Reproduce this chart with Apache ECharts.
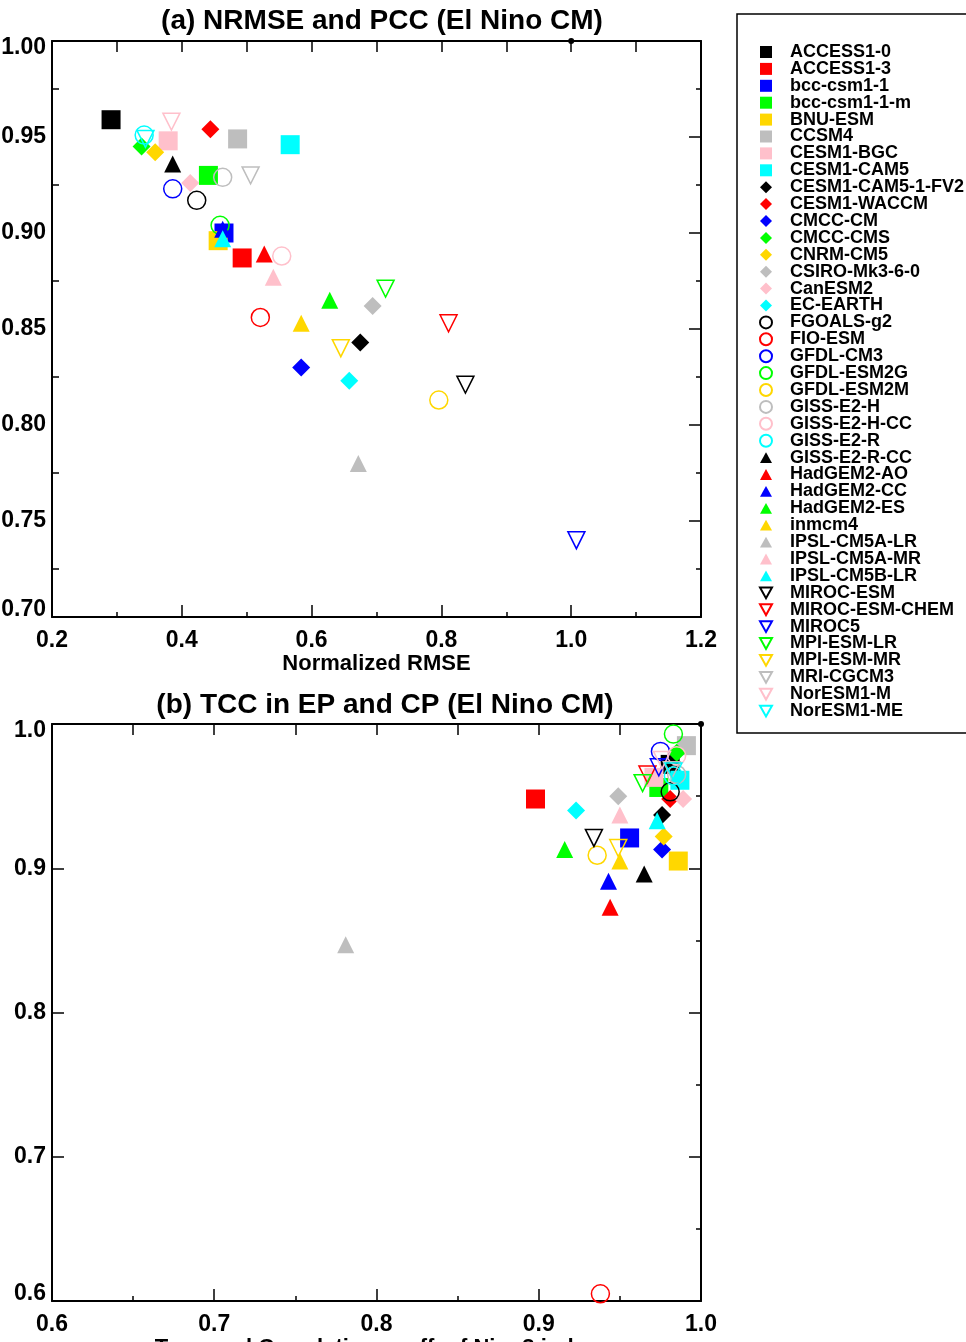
<!DOCTYPE html>
<html>
<head>
<meta charset="utf-8">
<script src="https://cdn.jsdelivr.net/npm/echarts@6/dist/echarts.min.js"></script>
<style>
  html, body { margin: 0; padding: 0; background: #fff; }
  #main { width: 966px; height: 1342px; }
</style>
</head>
<body>
<div id="main"></div>
<script>
var models = [
    'ACCESS1-0', 'ACCESS1-3', 'bcc-csm1-1', 'bcc-csm1-1-m', 'BNU-ESM', 'CCSM4', 'CESM1-BGC', 'CESM1-CAM5',
    'CESM1-CAM5-1-FV2', 'CESM1-WACCM', 'CMCC-CM', 'CMCC-CMS', 'CNRM-CM5', 'CSIRO-Mk3-6-0', 'CanESM2', 'EC-EARTH',
    'FGOALS-g2', 'FIO-ESM', 'GFDL-CM3', 'GFDL-ESM2G', 'GFDL-ESM2M', 'GISS-E2-H', 'GISS-E2-H-CC', 'GISS-E2-R',
    'GISS-E2-R-CC', 'HadGEM2-AO', 'HadGEM2-CC', 'HadGEM2-ES', 'inmcm4', 'IPSL-CM5A-LR', 'IPSL-CM5A-MR', 'IPSL-CM5B-LR',
    'MIROC-ESM', 'MIROC-ESM-CHEM', 'MIROC5', 'MPI-ESM-LR', 'MPI-ESM-MR', 'MRI-CGCM3', 'NorESM1-M', 'NorESM1-ME'
];

// (a) normalized RMSE (x) and pattern correlation (y)
var nrmse = [
    0.291, 0.493, 0.465, 0.441, 0.456, 0.486, 0.379, 0.567,
    0.675, 0.444, 0.584, 0.338, 0.359, 0.694, 0.413, 0.658,
    0.423, 0.521, 0.386, 0.459, 0.796, 0.463, 0.554, 0.342,
    0.386, 0.527, 0.463, 0.628, 0.584, 0.672, 0.541, 0.463,
    0.837, 0.811, 1.008, 0.714, 0.645, 0.506, 0.384, 0.344
];
var pcc = [
    0.959, 0.887, 0.900, 0.930, 0.896, 0.949, 0.948, 0.946,
    0.843, 0.954, 0.830, 0.945, 0.942, 0.862, 0.926, 0.823,
    0.917, 0.856, 0.923, 0.904, 0.813, 0.929, 0.888, 0.951,
    0.936, 0.889, 0.902, 0.865, 0.853, 0.780, 0.877, 0.897,
    0.821, 0.853, 0.740, 0.871, 0.840, 0.930, 0.958, 0.949
];

// (b) temporal correlation of Nino3 (x) and Nino4 (y) index
var tccNino3 = [
    0.981, 0.898, 0.956, 0.974, 0.986, 0.991, 0.971, 0.987,
    0.976, 0.981, 0.976, 0.985, 0.977, 0.949, 0.989, 0.923,
    0.981, 0.938, 0.975, 0.983, 0.936, 0.985, 0.985, 0.983,
    0.965, 0.944, 0.943, 0.916, 0.950, 0.781, 0.950, 0.973,
    0.934, 0.967, 0.974, 0.964, 0.949, 0.982, 0.976, 0.983
];
var tccNino4 = [
    0.972, 0.948, 0.921, 0.956, 0.905, 0.985, 0.963, 0.961,
    0.937, 0.948, 0.913, 0.980, 0.922, 0.950, 0.948, 0.940,
    0.953, 0.605, 0.981, 0.993, 0.909, 0.965, 0.978, 0.964,
    0.896, 0.873, 0.891, 0.913, 0.905, 0.847, 0.937, 0.933,
    0.921, 0.965, 0.970, 0.959, 0.914, 0.968, 0.975, 0.967
];

// reference point drawn on both panels
var obsA = [1.0, 1.0];
var obsB = [1.0, 1.0];

var palette = ['#000000', '#ff0000', '#0000ff', '#00ff00', '#ffd700', '#bebebe', '#ffc0cb', '#00ffff'];
var shapes = [
    { path: 'path://M0,0L10,0L10,10L0,10Z', size: 19, hollow: false },                       // square
    { path: 'path://M5,0L10,5L5,10L0,5Z', size: 18, hollow: false },                         // diamond
    { path: 'path://M0,5A5,5,0,1,1,10,5A5,5,0,1,1,0,5Z', size: 18, hollow: true },           // circle
    { path: 'path://M5,0L10,9L0,9Z', size: 17, hollow: false },                              // triangle
    { path: 'path://M0,0L10,0L5,9Z', size: 17, hollow: true }                                // down triangle
];

var font = 'Liberation Sans, Arial, Helvetica, sans-serif';
var myChart = echarts.init(document.getElementById('main'));

function bottomAxis(grid, min, max, interval, name) {
    return {
        type: 'value', gridIndex: grid, position: 'bottom', min: min, max: max, interval: interval,
        name: name, nameLocation: 'middle', nameGap: 34,
        nameTextStyle: { fontFamily: font, fontWeight: 'bold', fontSize: 22, color: '#000' },
        axisLine: { lineStyle: { color: '#000', width: 2 } },
        axisTick: { inside: true, length: 12, lineStyle: { color: '#000', width: 1.5 } },
        minorTick: { show: true, splitNumber: 2, length: 5, lineStyle: { color: '#000', width: 1.5 } },
        axisLabel: {
            margin: 12, fontFamily: font, fontWeight: 'bold', fontSize: 23, color: '#000',
            formatter: function (v) { return v.toFixed(1); }
        },
        splitLine: { show: false }
    };
}

function topAxis(grid, min, max, interval) {
    return {
        type: 'value', gridIndex: grid, position: 'top', min: min, max: max, interval: interval,
        axisLine: { lineStyle: { color: '#000', width: 2 } },
        axisTick: { inside: true, length: 11, lineStyle: { color: '#000', width: 1.5 } },
        axisLabel: { show: false },
        splitLine: { show: false }
    };
}

function leftAxis(grid, min, max, interval, digits, major, minor) {
    var lab = { fontFamily: font, fontWeight: 'bold', fontSize: 23, color: '#000' };
    return {
        type: 'value', gridIndex: grid, position: 'left', min: min, max: max, interval: interval,
        axisLine: { lineStyle: { color: '#000', width: 2 } },
        axisTick: { inside: true, length: major, lineStyle: { color: '#000', width: 1.5 } },
        minorTick: { show: minor > 0, splitNumber: 2, length: minor, lineStyle: { color: '#000', width: 1.5 } },
        axisLabel: {
            margin: 6, fontFamily: font, fontWeight: 'bold', fontSize: 23, color: '#000',
            // end labels sit inside the frame, as in the original
            formatter: function (v) {
                var t = v.toFixed(digits);
                if (Math.abs(v - max) < 1e-9) return '{hi|' + t + '}';
                if (Math.abs(v - min) < 1e-9) return '{lo|' + t + '}';
                return t;
            },
            rich: {
                hi: Object.assign({ padding: [14, 0, 0, 0] }, lab),
                lo: Object.assign({ padding: [0, 0, 14, 0] }, lab)
            }
        },
        splitLine: { show: false }
    };
}

function rightAxis(grid, min, max, interval) {
    return {
        type: 'value', gridIndex: grid, position: 'right', min: min, max: max, interval: interval,
        axisLine: { lineStyle: { color: '#000', width: 2 } },
        axisTick: { inside: true, length: 12, lineStyle: { color: '#000', width: 1.5 } },
        minorTick: { show: true, splitNumber: 2, length: 5, lineStyle: { color: '#000', width: 1.5 } },
        axisLabel: { show: false },
        splitLine: { show: false }
    };
}

var series = [];
models.forEach(function (m, i) {
    var c = palette[i % 8];
    var s = shapes[Math.floor(i / 8)];
    var base = {
        type: 'scatter', name: m, symbol: s.path, symbolSize: s.size, clip: false, silent: true,
        itemStyle: s.hollow
            ? { color: 'rgba(0,0,0,0)', borderColor: c, borderWidth: 1.5, opacity: 1 }
            : { color: c, borderWidth: 0, opacity: 1 }
    };
    series.push(Object.assign({}, base, { xAxisIndex: 0, yAxisIndex: 0, data: [[nrmse[i], pcc[i]]] }));
    series.push(Object.assign({}, base, { xAxisIndex: 2, yAxisIndex: 2, data: [[tccNino3[i], tccNino4[i]]] }));
});
series.push({ type: 'scatter', name: 'OBS', xAxisIndex: 0, yAxisIndex: 0, symbol: 'circle', symbolSize: 6,
    clip: false, silent: true, itemStyle: { color: '#000', opacity: 1 }, data: [obsA], z: 5 });
series.push({ type: 'scatter', name: 'OBS', xAxisIndex: 2, yAxisIndex: 2, symbol: 'circle', symbolSize: 6,
    clip: false, silent: true, itemStyle: { color: '#000', opacity: 1 }, data: [obsB], z: 5 });

var option = {
    backgroundColor: '#fff',
    animation: false,
    grid: [
        { left: 52, top: 41, width: 649, height: 576, outerBoundsMode: 'none', containLabel: false },
        { left: 52, top: 724, width: 649, height: 577, outerBoundsMode: 'none', containLabel: false }
    ],
    xAxis: [
        bottomAxis(0, 0.2, 1.2, 0.2, 'Normalized RMSE'),
        topAxis(0, 0.2, 1.2, 0.1),
        bottomAxis(1, 0.6, 1.0, 0.1, 'Temporal Correlation coeff. of Nino3 index'),
        topAxis(1, 0.6, 1.0, 0.05)
    ],
    yAxis: [
        leftAxis(0, 0.70, 1.00, 0.05, 2, 0, 7),
        rightAxis(0, 0.70, 1.00, 0.05),
        leftAxis(1, 0.6, 1.0, 0.1, 1, 12, 0),
        rightAxis(1, 0.6, 1.0, 0.1)
    ],
    legend: {
        data: models,
        orient: 'vertical',
        left: 759, top: 43, padding: 0,
        itemGap: -1.1, itemWidth: 12, itemHeight: 12,
        selectedMode: false,
        textStyle: { fontFamily: font, fontWeight: 'bold', fontSize: 18, color: '#000', padding: [0, 0, 0, 13] }
    },
    graphic: [
        { type: 'rect', shape: { x: 737, y: 14, width: 260, height: 719 }, style: { fill: 'none', stroke: '#000', lineWidth: 1.5 } },
        { type: 'text', x: 382, y: 21, style: { text: '(a) NRMSE and PCC (El Nino CM)', font: 'bold 28px ' + font, fill: '#000', textAlign: 'center', textVerticalAlign: 'middle' } },
        { type: 'text', x: 385, y: 705, style: { text: '(b) TCC in EP and CP (El Nino CM)', font: 'bold 28px ' + font, fill: '#000', textAlign: 'center', textVerticalAlign: 'middle' } }
    ],
    series: series
};
myChart.setOption(option);
</script>
</body>
</html>
